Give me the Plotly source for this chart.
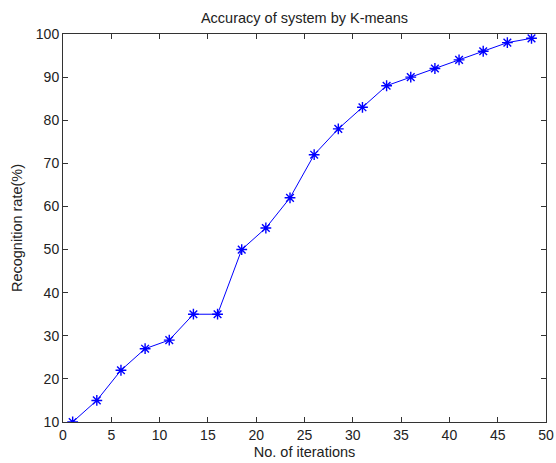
import plotly.graph_objects as go

iterations = [1, 3.5, 6, 8.5, 11, 13.5, 16, 18.5, 21, 23.5, 26, 28.5, 31, 33.5, 36, 38.5, 41, 43.5, 46, 48.5]
recognition = [10, 15, 22, 27, 29, 35, 35, 50, 55, 62, 72, 78, 83, 88, 90, 92, 94, 96, 98, 99]

x_ticks = [0, 5, 10, 15, 20, 25, 30, 35, 40, 45, 50]
y_ticks = [10, 20, 30, 40, 50, 60, 70, 80, 90, 100]

font = "Liberation Sans, Arial, sans-serif"

fig = go.Figure()
fig.add_trace(go.Scatter(
    x=iterations, y=recognition, mode="lines+markers",
    line=dict(color="#0000ff", width=1),
    marker=dict(symbol="asterisk-open", size=9, color="#0000ff",
                line=dict(color="#0000ff", width=1.4)),
    showlegend=False,
))

axis_common = dict(
    showline=True, linecolor="#333333", linewidth=1, mirror="ticks",
    ticks="inside", ticklen=5, tickcolor="#333333", tickwidth=1,
    showgrid=False, zeroline=False, ticklabeloverflow="allow",
    tickfont=dict(family=font, size=14, color="#222222"),
)

fig.update_layout(
    width=556, height=463,
    margin=dict(l=63, r=2, t=34, b=41),
    paper_bgcolor="white", plot_bgcolor="white",
    title=dict(text="Accuracy of system by K-means", x=0.5, xanchor="center",
               xref="paper", y=1 - 18 / 463, yanchor="middle",
               font=dict(family=font, size=14.5, color="#222222")),
    xaxis=dict(range=[0, 50], tickvals=x_ticks, ticktext=[str(v) for v in x_ticks],
               title=dict(text="No. of iterations", standoff=5,
                          font=dict(family=font, size=14.5, color="#222222")),
               **axis_common),
    yaxis=dict(range=[10, 100], tickvals=y_ticks, ticktext=[str(v) for v in y_ticks],
               title=dict(text="Recognition rate(%)", standoff=9,
                          font=dict(family=font, size=14.5, color="#222222")),
               **axis_common),
)

fig.write_html("out.html")
